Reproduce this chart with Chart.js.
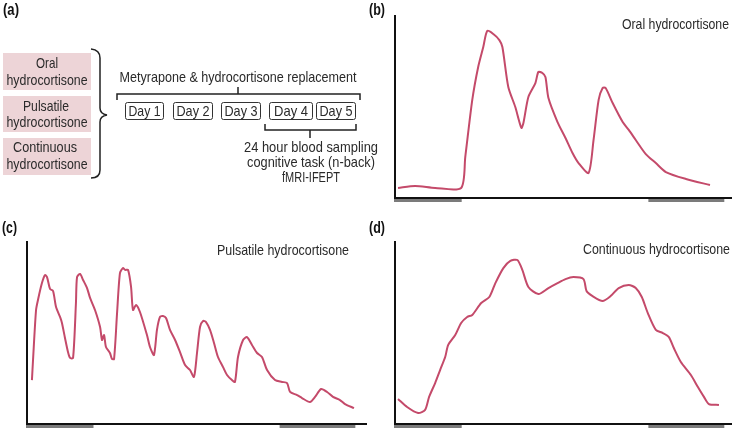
<!DOCTYPE html>
<html>
<head>
<meta charset="utf-8">
<script src="https://cdn.jsdelivr.net/npm/chart.js@4/dist/chart.umd.min.js"></script>
<style>
  body { margin: 0; background: #fff; }
  #page { position: relative; width: 735px; height: 429px; overflow: hidden; }
  canvas, svg { position: absolute; }
  svg text { font-family: "Liberation Sans", Arial, sans-serif; font-size: 15px; fill: #2a2a2a; }
  svg text.label { font-weight: bold; font-size: 16px; fill: #111; }
</style>
</head>
<body>
<div id="page">
  <canvas id="chart-b" width="367" height="212" style="left:368px;top:0"></canvas>
  <canvas id="chart-c" width="372" height="214" style="left:0;top:215px"></canvas>
  <canvas id="chart-d" width="367" height="214" style="left:368px;top:215px"></canvas>

  <svg id="overlay" width="735" height="429" style="left:0;top:0">
    <text class="label" x="3" y="15" textLength="16" lengthAdjust="spacingAndGlyphs">(a)</text>
    <text class="label" x="369" y="15" textLength="16" lengthAdjust="spacingAndGlyphs">(b)</text>
    <text class="label" x="2" y="233" textLength="15" lengthAdjust="spacingAndGlyphs">(c)</text>
    <text class="label" x="369" y="233" textLength="16" lengthAdjust="spacingAndGlyphs">(d)</text>

    <rect x="3" y="53" width="88" height="37" fill="#edd4d7"/>
    <rect x="3" y="96" width="88" height="36" fill="#edd4d7"/>
    <rect x="3" y="138" width="88" height="37" fill="#edd4d7"/>
    <text x="47" y="68" text-anchor="middle" textLength="22" lengthAdjust="spacingAndGlyphs">Oral</text>
    <text x="47" y="85" text-anchor="middle" textLength="81" lengthAdjust="spacingAndGlyphs">hydrocortisone</text>
    <text x="46" y="111" text-anchor="middle" textLength="46" lengthAdjust="spacingAndGlyphs">Pulsatile</text>
    <text x="47" y="127" text-anchor="middle" textLength="81" lengthAdjust="spacingAndGlyphs">hydrocortisone</text>
    <text x="45" y="152" text-anchor="middle" textLength="64" lengthAdjust="spacingAndGlyphs">Continuous</text>
    <text x="47" y="169" text-anchor="middle" textLength="81" lengthAdjust="spacingAndGlyphs">hydrocortisone</text>
    <path d="M91 49 Q100 50 100 58 L100 108 Q100 114 107 115 Q100 116 100 122 L100 170 Q100 178 91 178" fill="none" stroke="#222" stroke-width="1.5"/>

    <text x="238" y="82" text-anchor="middle" textLength="237" lengthAdjust="spacingAndGlyphs">Metyrapone &amp; hydrocortisone replacement</text>
    <path d="M117 100 L117 94 L360 94 L360 100 M238 94 L238 87" fill="none" stroke="#222" stroke-width="1.5"/>
    <g fill="none" stroke="#333" stroke-width="1">
      <rect x="125.5" y="102.5" width="38" height="17" rx="2"/>
      <rect x="173.5" y="102.5" width="39" height="17" rx="2"/>
      <rect x="221.5" y="102.5" width="39" height="17" rx="2"/>
      <rect x="269.5" y="102.5" width="43" height="17" rx="2"/>
      <rect x="316.5" y="102.5" width="39" height="17" rx="2"/>
    </g>
    <text x="144.5" y="116" text-anchor="middle" textLength="32" lengthAdjust="spacingAndGlyphs">Day 1</text>
    <text x="193" y="116" text-anchor="middle" textLength="33" lengthAdjust="spacingAndGlyphs">Day 2</text>
    <text x="241" y="116" text-anchor="middle" textLength="33" lengthAdjust="spacingAndGlyphs">Day 3</text>
    <text x="291" y="116" text-anchor="middle" textLength="34" lengthAdjust="spacingAndGlyphs">Day 4</text>
    <text x="336" y="116" text-anchor="middle" textLength="33" lengthAdjust="spacingAndGlyphs">Day 5</text>
    <path d="M265 124 L265 130 L356 130 L356 124 M310 130 L310 138" fill="none" stroke="#222" stroke-width="1.5"/>
    <text x="311" y="152" text-anchor="middle" textLength="134" lengthAdjust="spacingAndGlyphs">24 hour blood sampling</text>
    <text x="311" y="167" text-anchor="middle" textLength="128" lengthAdjust="spacingAndGlyphs">cognitive task (n-back)</text>
    <text x="311" y="182" text-anchor="middle" textLength="58" lengthAdjust="spacingAndGlyphs">fMRI-IFEPT</text>

    <text x="729" y="29" text-anchor="end" textLength="107" lengthAdjust="spacingAndGlyphs">Oral hydrocortisone</text>
    <text x="217" y="255" textLength="132" lengthAdjust="spacingAndGlyphs">Pulsatile hydrocortisone</text>
    <text x="730" y="254" text-anchor="end" textLength="147" lengthAdjust="spacingAndGlyphs">Continuous hydrocortisone</text>
  </svg>
</div>
<script>
// hours across the sampling day, cortisol level in arbitrary units (0-100)
const oralHours = [0.22, 1.46, 2.92, 4.81, 5.11, 5.62, 6.05, 6.42, 6.71, 7.15, 7.59, 7.81, 8.24, 8.75, 9.19, 9.34, 9.70, 10.21, 10.43, 10.72, 10.94, 11.16, 11.82, 12.40, 12.91, 13.35, 14.08, 14.44, 14.81, 15.10, 15.32, 15.83, 16.56, 17.00, 17.51, 18.24, 18.97, 19.70, 21.16, 22.91];
const oralLevel = [5.5, 6.6, 5.5, 5.5, 22.4, 53.6, 71.6, 82.5, 91.3, 89.6, 86.3, 82.5, 60.7, 49.7, 38.3, 41.0, 55.2, 62.8, 68.9, 68.3, 66.1, 54.6, 41.5, 32.8, 24.6, 19.1, 13.7, 31.7, 53.6, 60.1, 60.1, 51.9, 41.5, 37.2, 31.7, 24.0, 19.1, 14.2, 10.4, 7.1];

const pulsatileHours = [0.36, 0.44, 0.66, 0.80, 1.09, 1.31, 1.46, 1.68, 1.90, 2.12, 2.41, 2.55, 2.77, 2.99, 3.14, 3.36, 3.57, 3.65, 3.87, 4.09, 4.38, 4.60, 4.96, 5.33, 5.47, 5.62, 5.76, 6.05, 6.20, 6.35, 6.57, 6.78, 7.00, 7.15, 7.37, 7.59, 7.73, 7.95, 8.24, 8.75, 8.97, 9.26, 9.48, 9.70, 9.92, 10.14, 10.43, 10.80, 11.16, 11.53, 11.89, 12.18, 12.40, 12.62, 12.84, 13.06, 13.35, 13.64, 13.93, 14.30, 14.59, 14.95, 15.17, 15.39, 15.76, 16.05, 16.41, 16.78, 17.14, 17.51, 18.09, 18.60, 18.97, 19.19, 19.70, 20.06, 20.64, 21.01, 21.45, 21.89, 22.32, 22.83, 23.20, 23.85];
const pulsatileLevel = [24.0, 35.0, 62.3, 67.8, 77.0, 81.4, 80.3, 73.8, 72.7, 63.9, 58.5, 55.2, 47.0, 39.3, 36.1, 36.1, 66.1, 80.3, 82.0, 78.7, 74.3, 68.9, 62.3, 53.0, 45.9, 48.6, 42.1, 38.8, 35.5, 35.5, 60.7, 82.5, 85.2, 84.2, 84.2, 74.9, 62.3, 65.0, 61.2, 48.6, 42.1, 37.7, 51.4, 58.5, 59.0, 57.9, 51.4, 45.9, 39.3, 32.2, 29.5, 25.7, 38.8, 53.0, 56.3, 55.7, 51.4, 44.3, 36.6, 31.1, 26.8, 24.0, 23.0, 36.6, 45.9, 47.5, 43.2, 38.8, 36.6, 29.5, 24.0, 23.0, 22.4, 17.5, 15.8, 14.2, 12.0, 14.8, 19.1, 17.5, 14.8, 13.1, 10.9, 8.7];

const continuousHours = [0.22, 0.88, 1.68, 2.19, 2.48, 2.92, 3.28, 3.65, 3.87, 4.38, 4.81, 5.25, 5.62, 6.27, 6.86, 7.30, 7.88, 8.39, 8.90, 9.26, 9.70, 10.43, 11.16, 11.82, 12.40, 12.98, 13.71, 13.93, 14.37, 15.10, 15.68, 16.27, 17.00, 17.51, 17.95, 18.38, 18.97, 19.48, 19.92, 20.28, 20.79, 21.52, 22.03, 22.47, 22.83, 23.56];
const continuousLevel = [13.7, 9.3, 6.0, 7.7, 14.8, 22.4, 29.5, 36.6, 43.2, 48.6, 55.2, 58.5, 59.6, 66.1, 69.4, 77.0, 85.2, 89.1, 89.6, 84.2, 74.9, 71.0, 74.3, 77.0, 79.2, 80.3, 79.2, 72.7, 69.9, 67.2, 69.9, 74.3, 76.0, 74.3, 69.4, 60.7, 51.4, 49.7, 47.5, 41.5, 33.9, 26.8, 20.2, 14.8, 10.9, 10.4];

// sleep periods shown as grey bars under the time axis
const sleepStart = [0, 18.5];
const sleepEnd = [4.85, 23.95];

const axesPlugin = {
  id: "axes",
  beforeDatasetsDraw(chart) {
    const { ctx, chartArea, scales } = chart;
    ctx.save();
    ctx.fillStyle = "#7b7b7b";
    sleepStart.forEach((start, i) => {
      const x1 = scales.x.getPixelForValue(start);
      const x2 = scales.x.getPixelForValue(sleepEnd[i]);
      ctx.fillRect(x1 - 1, chartArea.bottom + 1, x2 - x1 + 1, 3);
    });
    ctx.strokeStyle = "#111";
    ctx.lineWidth = 2;
    ctx.beginPath();
    ctx.moveTo(chartArea.left, chartArea.top);
    ctx.lineTo(chartArea.left, chartArea.bottom);
    ctx.lineTo(chartArea.right, chartArea.bottom);
    ctx.stroke();
    ctx.restore();
  }
};

const makePanel = (id, hours, level, xMax, padding) => {
  return new Chart(document.getElementById(id), {
    type: "line",
    data: {
      datasets: [{
        data: hours.map((h, i) => ({ x: h, y: level[i] })),
        borderColor: "#c44a6a",
        borderWidth: 2,
        pointRadius: 0,
        tension: 0.25,
        fill: false
      }]
    },
    options: {
      responsive: false,
      animation: false,
      layout: { padding: padding },
      plugins: { legend: { display: false }, tooltip: { enabled: false } },
      scales: {
        x: { type: "linear", min: 0, max: xMax, display: false },
        y: { min: 0, max: 100, display: false }
      }
    },
    plugins: [axesPlugin]
  });
};

makePanel("chart-b", oralHours, oralLevel, 24.51, { left: 27, top: 15, right: 3, bottom: 14 });
makePanel("chart-c", pulsatileHours, pulsatileLevel, 24.8, { left: 27, top: 26, right: 5, bottom: 5 });
makePanel("chart-d", continuousHours, continuousLevel, 24.51, { left: 27, top: 26, right: 3, bottom: 5 });
</script>
</body>
</html>
